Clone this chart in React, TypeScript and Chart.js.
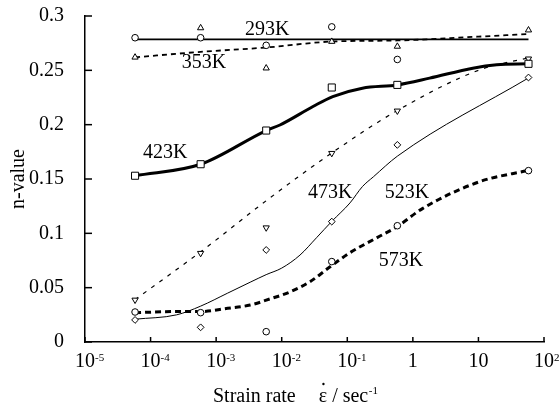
import { useEffect, useRef } from "react";
import { Chart, registerables } from "chart.js";

Chart.register(...registerables);

const SERIF = '"Liberation Serif", "DejaVu Serif", serif';

// measured strain rates (1/s)
const strainRates = [5.8e-5, 5.8e-4, 5.8e-3, 5.8e-2, 0.58, 58];

// measured n-values (markers)
const n293 = [0.28, 0.28, 0.273, 0.29, 0.26];
const n353 = [0.262, 0.289, 0.252, 0.2765, 0.272, 0.287];
const n423 = [0.153, 0.1636, 0.1946, 0.2342, 0.2366, 0.256];
const n473 = [0.0387, 0.0817, 0.1052, 0.1737, 0.2127, 0.2606];
const n523 = [0.0203, 0.0135, 0.0847, 0.1108, 0.1814, 0.2434];
const n573 = [0.0276, 0.027, 0.0095, 0.074, 0.107, 0.1577];

// fitted curves
const fit293X = [5.8e-5, 58];
const fit293Y = [0.2785, 0.2785];
const fit353X = [5.8e-5, 5.8e-4, 5.8e-3, 5.8e-2, 0.58, 10, 58];
const fit353Y = [0.262, 0.267, 0.271, 0.2765, 0.2775, 0.281, 0.2835];
const fit423X = [5.8e-5, 5.8e-4, 5.8e-3, 9.4e-3, 3.0e-2, 6.0e-2, 0.17, 0.58, 1.8, 8.2, 19, 58];
const fit423Y = [0.153, 0.1636, 0.1946, 0.1997, 0.2167, 0.2259, 0.2336, 0.2366, 0.2428, 0.252, 0.2551, 0.256];
const fit473X = [5.8e-5, 5.8e-4, 5.8e-3, 5.8e-2, 0.58, 10.5, 58];
const fit473Y = [0.039, 0.083, 0.13, 0.174, 0.213, 0.2505, 0.2615];
const fit523X = [5.8e-5, 2.5e-4, 5.8e-4, 1.5e-3, 3.3e-3, 5.8e-3, 1.0e-2, 1.9e-2, 3.4e-2, 5.8e-2, 0.11, 0.17, 0.25, 0.58, 58];
const fit523Y = [0.021, 0.025, 0.033, 0.045, 0.055, 0.062, 0.068, 0.08, 0.096, 0.111, 0.128, 0.143, 0.152, 0.171, 0.243];
const fit573X = [5.8e-5, 2.5e-4, 5.8e-4, 1.5e-3, 3.3e-3, 6.6e-3, 1.33e-2, 2.7e-2, 5.4e-2, 0.11, 0.28, 0.57, 1.42, 10.5, 58];
const fit573Y = [0.027, 0.028, 0.028, 0.031, 0.034, 0.0396, 0.046, 0.0555, 0.069, 0.0822, 0.0958, 0.106, 0.123, 0.1476, 0.158];

// ticks
const xTickValues = [1e-5, 1e-4, 1e-3, 1e-2, 1e-1, 1, 10, 100];
const xTickBase = ["10", "10", "10", "10", "10", "1", "10", "10"];
const xTickExp = ["-5", "-4", "-3", "-2", "-1", "", "", "2"];
const yTickValues = [0, 0.05, 0.1, 0.15, 0.2, 0.25, 0.3];
const yTickLabels = ["0", "0.05", "0.1", "0.15", "0.2", "0.25", "0.3"];

const curveNames = ["293K", "353K", "423K", "473K", "523K", "573K"];

const pts = (xs: number[], ys: number[]) => ys.map((y, i) => ({ x: xs[i], y }));

const decor = {
  id: "decor",
  afterDraw(chart: any) {
    const { ctx, chartArea: ca, scales } = chart;
    const x = scales.x;
    const y = scales.y;
    ctx.save();
    ctx.strokeStyle = "#000";
    ctx.fillStyle = "#000";
    ctx.lineWidth = 1.5;
    // inward tick marks
    xTickValues.forEach((v) => {
      const px = x.getPixelForValue(v);
      ctx.beginPath();
      ctx.moveTo(px, ca.bottom);
      ctx.lineTo(px, ca.bottom - 5);
      ctx.stroke();
    });
    yTickValues.forEach((v) => {
      const py = y.getPixelForValue(v);
      ctx.beginPath();
      ctx.moveTo(ca.left, py);
      ctx.lineTo(ca.left + 7, py);
      ctx.stroke();
    });
    // x tick labels with superscripts
    ctx.textBaseline = "alphabetic";
    xTickValues.forEach((v, i) => {
      const px = x.getPixelForValue(v);
      ctx.font = `20px ${SERIF}`;
      ctx.textAlign = "center";
      ctx.fillText(xTickBase[i], px, ca.bottom + 25);
      if (xTickExp[i]) {
        const w = ctx.measureText(xTickBase[i]).width;
        ctx.font = `11px ${SERIF}`;
        ctx.textAlign = "left";
        ctx.fillText(xTickExp[i], px + w / 2, ca.bottom + 19);
      }
    });
    // x axis title
    ctx.font = `20px ${SERIF}`;
    ctx.textAlign = "left";
    const base = ca.bottom + 60;
    let tx = ca.left + 128;
    ctx.fillText("Strain rate", tx, base);
    tx += ctx.measureText("Strain rate").width + 23;
    ctx.fillText("ε", tx, base);
    const ew = ctx.measureText("ε").width;
    ctx.beginPath();
    ctx.arc(tx + ew / 2 + 0.5, base - 18, 1.2, 0, Math.PI * 2);
    ctx.fill();
    tx += ew;
    ctx.fillText(" / sec", tx, base);
    tx += ctx.measureText(" / sec").width;
    ctx.font = `11px ${SERIF}`;
    ctx.fillText("-1", tx + 0.5, base - 8);
    // curve labels (anchored in data space)
    const anchors: [number, number][] = [
      [2.75e-3, 0.2873],
      [3.0e-4, 0.2569],
      [7.65e-5, 0.1745],
      [0.0251, 0.1372],
      [0.374, 0.1372],
      [0.303, 0.0746],
    ];
    ctx.font = `20px ${SERIF}`;
    ctx.textAlign = "left";
    ctx.textBaseline = "middle";
    curveNames.forEach((name, i) => {
      ctx.fillText(name, x.getPixelForValue(anchors[i][0]), y.getPixelForValue(anchors[i][1]));
    });
    ctx.restore();
  },
};

export default function App() {
  const ref = useRef<HTMLCanvasElement>(null);
  useEffect(() => {
    const marker = (data: any[], style: string, radius: number, rotation = 0) => ({
      data,
      showLine: false,
      pointStyle: style,
      pointRadius: radius,
      pointRotation: rotation,
      pointBorderColor: "#000",
      pointBackgroundColor: "#fff",
      pointBorderWidth: 1,
      order: 0,
    });
    const curve = (data: any[], width: number, dash: number[], tension: boolean) => ({
      data,
      showLine: true,
      pointRadius: 0,
      borderColor: "#000",
      borderWidth: width,
      borderDash: dash,
      cubicInterpolationMode: tension ? "monotone" : "default",
      tension: 0,
      fill: false,
      order: 1,
    });
    const chart = new Chart(ref.current!, {
      type: "scatter",
      data: {
        datasets: [
          marker(pts(strainRates, n293), "circle", 3.3),
          marker(pts(strainRates, n353), "triangle", 3.6),
          marker(pts(strainRates, n423), "rect", 5),
          marker(pts(strainRates, n473), "triangle", 3.6, 180),
          marker(pts(strainRates, n523), "rectRot", 3.4),
          marker(pts(strainRates, n573), "circle", 3.3),
          curve(pts(fit293X, fit293Y), 1.8, [], false),
          curve(pts(fit353X, fit353Y), 1.8, [5, 4], true),
          curve(pts(fit423X, fit423Y), 3, [], true),
          curve(pts(fit473X, fit473Y), 1.2, [4, 6], true),
          curve(pts(fit523X, fit523Y), 1, [], true),
          curve(pts(fit573X, fit573Y), 3, [6, 4], true),
        ] as any,
      },
      options: {
        responsive: false,
        animation: false,
        devicePixelRatio: 1,
        layout: { padding: { left: 0, right: 16, top: 16, bottom: 0 } },
        plugins: { legend: { display: false }, tooltip: { enabled: false } },
        events: [],
        scales: {
          x: {
            type: "logarithmic",
            min: 1e-5,
            max: 100,
            grid: { display: false },
            border: { display: true, color: "#000", width: 1.5 },
            ticks: { display: false },
            afterBuildTicks: (s: any) => {
              s.ticks = xTickValues.map((value) => ({ value }));
            },
            afterFit: (s: any) => {
              s.height = 70;
              s.paddingLeft = 0;
              s.paddingRight = 0;
            },
          },
          y: {
            type: "linear",
            min: 0,
            max: 0.3,
            grid: { display: false },
            border: { display: true, color: "#000", width: 1.5 },
            afterBuildTicks: (s: any) => {
              s.ticks = yTickValues.map((value) => ({ value }));
            },
            ticks: {
              padding: 13,
              color: "#000",
              font: { family: SERIF, size: 20 },
              callback: (_v: any, i: number) => yTickLabels[i],
            },
            title: {
              display: true,
              text: "n-value",
              color: "#000",
              font: { family: SERIF, size: 20 },
              padding: { top: 6.5, bottom: 0 },
            },
            afterFit: (s: any) => {
              s.width = 85;
              s.paddingTop = 0;
              s.paddingBottom = 0;
            },
          },
        },
      } as any,
      plugins: [decor],
    });
    return () => chart.destroy();
  }, []);
  return (
    <div style={{ position: "fixed", left: 0, top: 0, width: 560, height: 412, background: "#fff" }}>
      <canvas ref={ref} width={560} height={412} style={{ display: "block", width: 560, height: 412 }} />
    </div>
  );
}
